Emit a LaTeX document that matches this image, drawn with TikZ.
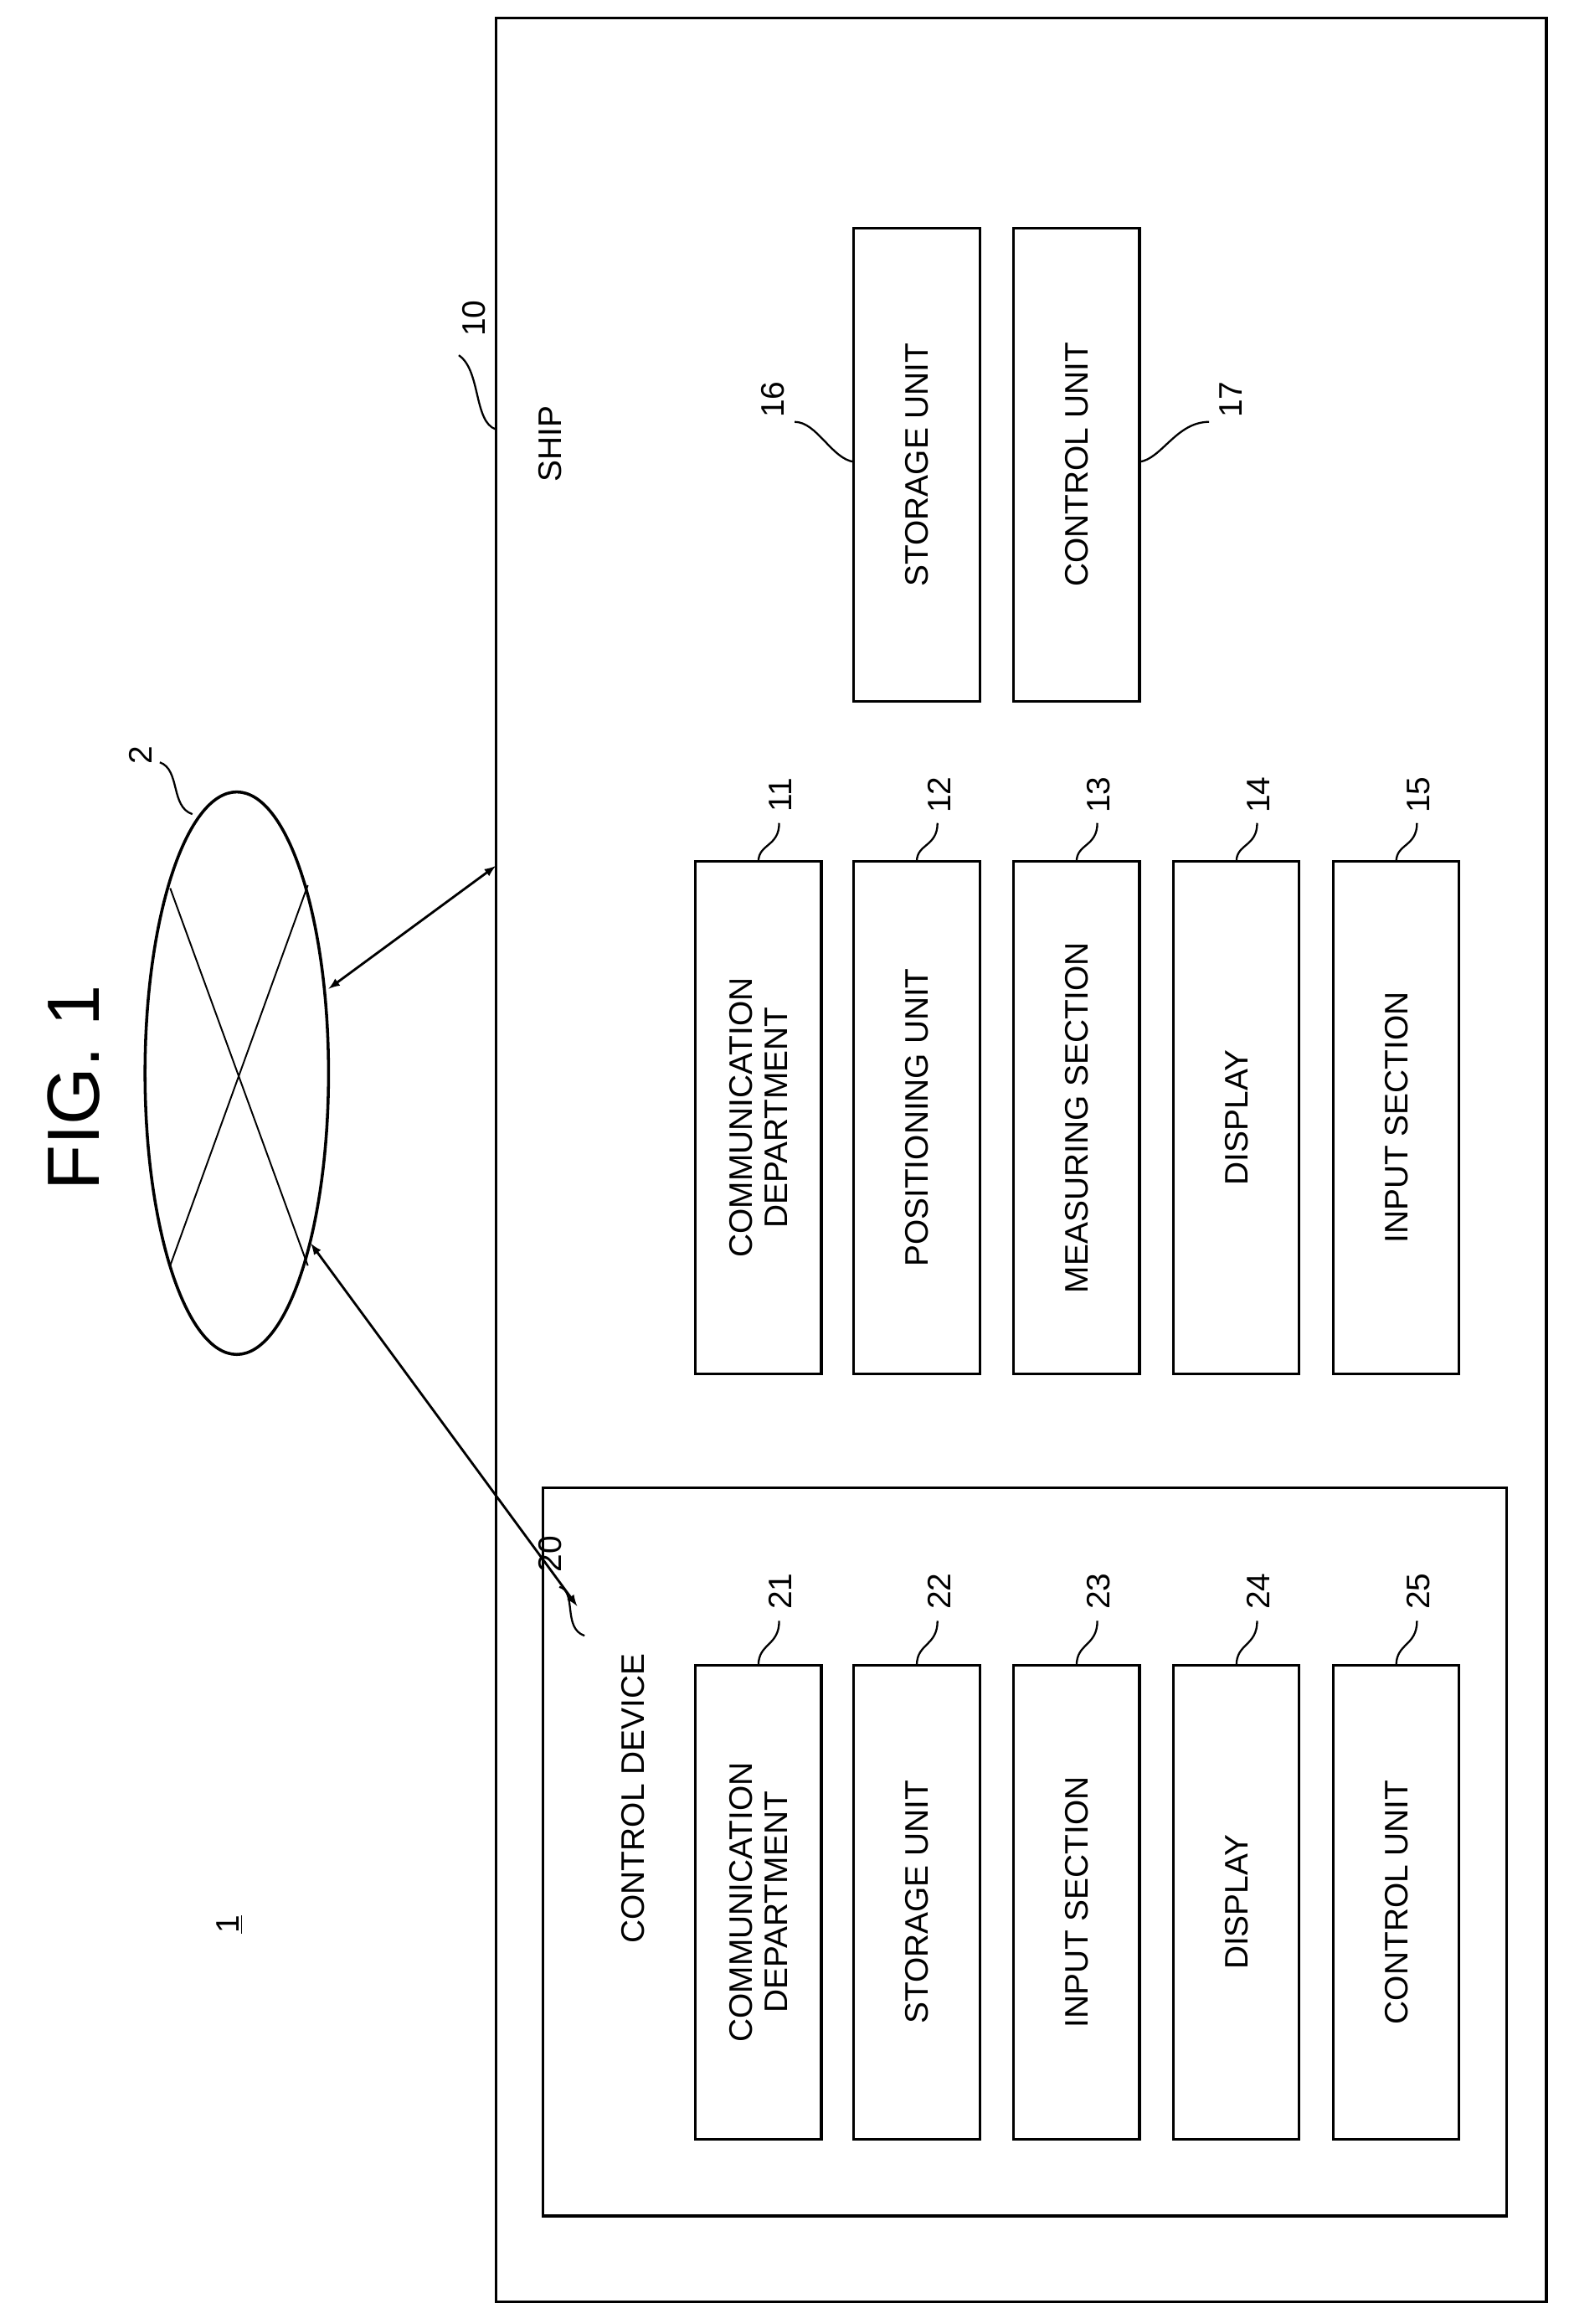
\documentclass[tikz,border=0pt]{standalone}
\usepackage{fontspec}
\setmainfont{Liberation Sans}
\usetikzlibrary{shapes.geometric}
\begin{document}
\begin{tikzpicture}[x=1pt,y=-1pt,
  box/.style={draw,line width=1.8pt,minimum width=320pt,minimum height=85pt,rotate=90,align=center,font=\fontsize{22}{24}\selectfont,inner sep=0pt},
  lab/.style={rotate=90,font=\fontsize{22}{24}\selectfont},
  lead/.style={line width=1.3pt},
  dbl/.style={line width=1.6pt,<->,>=latex}]
\useasboundingbox (0,0) rectangle (1060,1570);
\node[lab,font=\fontsize{50}{55}\selectfont] (fig) at (50,735) {FIG. 1};
\node[lab] (one) at (155,1300) {\underline{1}};
% ship
\node[draw,line width=1.8pt,minimum width=1543pt,minimum height=710pt,rotate=90,inner sep=0pt] (ship) at (690,783.5) {};
\node[lab] (shiplab) at (372,300) {SHIP};
\node[lab] (n10) at (320,215) {10};
\draw[lead] (335,290) .. controls (320,285) and (325,250) .. (310,240);
% storage/control
\node[box] (b16) at (619.5,314) {STORAGE UNIT};
\node[box] (b17) at (727.5,314) {CONTROL UNIT};
\node[lab] (n16) at (522,270) {16};
\draw[lead] (577,312) .. controls (562,310) and (552,285) .. (537,285);
\node[lab] (n17) at (832,270) {17};
\draw[lead] (770,312) .. controls (785,310) and (795,285) .. (817,285);
% middle column
\foreach \i/\x/\t in {11/512.5/{COMMUNICATION\\DEPARTMENT},12/619.5/{POSITIONING UNIT},13/727.5/{MEASURING SECTION},14/835.5/{DISPLAY},15/943.5/{INPUT SECTION}}{
  \node[box,minimum width=346pt] (b\i) at (\x,755) {\t};
  \node[lab] (n\i) at (\x+15,537) {\i};
  \draw[lead] (\x,582) .. controls (\x,570) and (\x+14,572) .. (\x+14,556);
}
% control device
\node[draw,line width=1.8pt,minimum width=492pt,minimum height=651pt,rotate=90,inner sep=0pt] (cd) at (692.5,1251) {};
\node[lab] (cdlab) at (428,1215) {CONTROL DEVICE};
\node[lab] (n20) at (372,1050) {20};
\draw[lead] (395,1105) .. controls (380,1100) and (390,1075) .. (378,1072);
\foreach \i/\x/\t in {21/512.5/{COMMUNICATION\\DEPARTMENT},22/619.5/{STORAGE UNIT},23/727.5/{INPUT SECTION},24/835.5/{DISPLAY},25/943.5/{CONTROL UNIT}}{
  \node[box] (b\i) at (\x,1285) {\t};
  \node[lab] (n\i) at (\x+15,1075) {\i};
  \draw[lead] (\x,1125) .. controls (\x,1110) and (\x+14,1112) .. (\x+14,1095);
}
% network
\node[draw,ellipse,line width=2pt,minimum width=124pt,minimum height=380pt,inner sep=0pt] (net) at (160,725) {};
\draw[line width=1.1pt] (115,600) -- (208,855);
\draw[line width=1.1pt] (208,598) -- (115,855);
\node[lab] (n2) at (95,510) {2};
\draw[lead] (130,550) .. controls (115,545) and (122,520) .. (108,515);
\coordinate (a1) at (222,668);
\coordinate (a2) at (335,585);
\coordinate (c1) at (210,840);
\coordinate (c2) at (390,1085);
\draw[dbl] (a1) -- (a2);
\draw[dbl] (c1) -- (c2);
\end{tikzpicture}
\end{document}
